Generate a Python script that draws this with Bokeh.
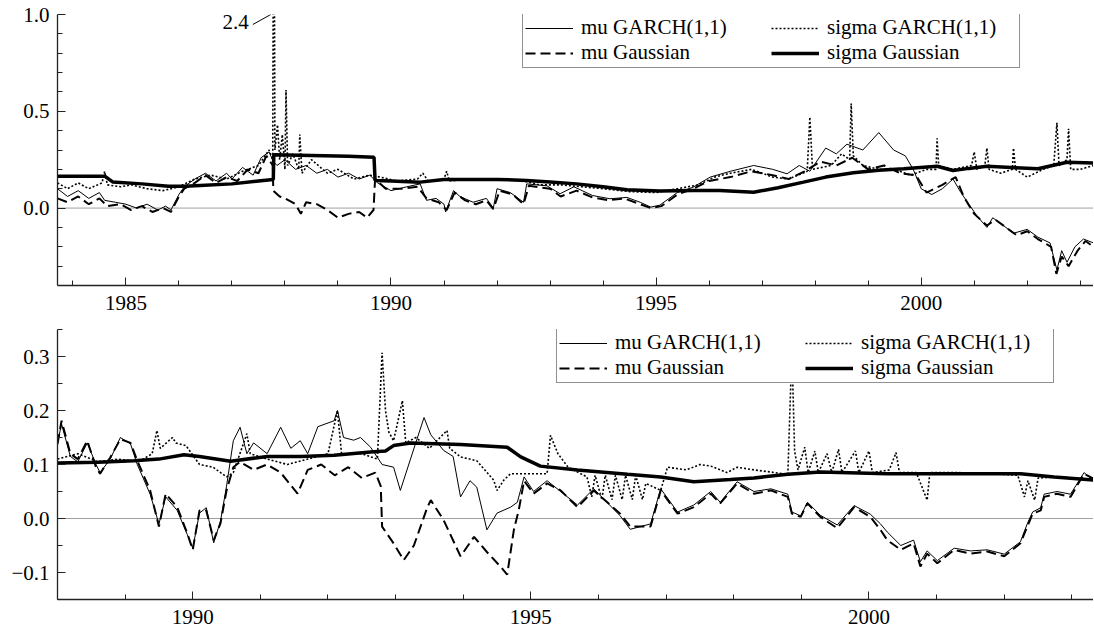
from bokeh.plotting import figure
from bokeh.layouts import column
from bokeh.models import (FixedTicker, CustomJSTickFormatter, Span, Legend,
                          LegendItem, Label)
from bokeh.embed import file_html
from bokeh.resources import INLINE

FONT = "Liberation Serif"
FS = "21px"

# ---------------- data: top panel (date, value) ----------------
top_mu_garch = [(1983.71,0.10),(1983.9,0.06),(1984.1,0.09),(1984.3,0.05),(1984.5,0.08),(1984.6,0.04),
    (1984.8,0.03),(1985.0,0.02),(1985.2,0.0),(1985.4,0.02),(1985.6,-0.01),(1985.75,0.01),(1985.85,-0.01),
    (1986.0,0.07),(1986.1,0.11),(1986.3,0.15),(1986.5,0.18),(1986.7,0.14),(1986.9,0.18),(1987.0,0.15),
    (1987.2,0.21),(1987.4,0.17),(1987.55,0.26),(1987.7,0.29),(1987.78,0.24),(1987.85,0.22),(1988.0,0.25),
    (1988.2,0.2),(1988.4,0.22),(1988.6,0.18),(1988.8,0.2),(1989.0,0.16),(1989.2,0.18),(1989.4,0.15),
    (1989.6,0.17),(1989.75,0.13),(1990.0,0.09),(1990.3,0.11),(1990.55,0.125),(1990.67,0.04),(1990.85,0.05),
    (1991.0,0.02),(1991.03,-0.02),(1991.18,0.09),(1991.3,0.06),(1991.55,0.03),(1991.8,0.05),(1991.93,0.0),
    (1992.0,0.1),(1992.25,0.08),(1992.5,0.03),(1992.56,0.125),(1992.94,0.115),(1993.19,0.074),(1993.45,0.11),
    (1993.8,0.065),(1994.13,0.048),(1994.45,0.055),(1994.7,0.03),(1994.9,0.005),(1995.07,0.015),(1995.4,0.08),
    (1995.7,0.108),(1996.02,0.16),(1996.4,0.19),(1996.84,0.22),(1997.2,0.2),(1997.47,0.177),(1997.7,0.22),
    (1997.9,0.19),(1998.2,0.31),(1998.4,0.28),(1998.6,0.33),(1998.9,0.3),(1999.2,0.39),(1999.48,0.30),
    (1999.7,0.27),(1999.85,0.2),(2000.0,0.1),(2000.2,0.07),(2000.4,0.1),(2000.6,0.15),(2000.75,0.08),
    (2000.9,0.02),(2001.05,-0.04),(2001.24,-0.1),(2001.35,-0.05),(2001.55,-0.09),(2001.74,-0.13),(2002.0,-0.11),
    (2002.2,-0.15),(2002.43,-0.18),(2002.56,-0.32),(2002.65,-0.22),(2002.75,-0.28),(2002.9,-0.2),
    (2003.06,-0.16),(2003.25,-0.18)]

top_sigma_garch = [(1983.71,0.13),(1983.9,0.1),(1984.1,0.13),(1984.3,0.1),(1984.55,0.13),(1984.6,0.19),
    (1984.65,0.12),(1984.9,0.11),(1985.1,0.12),(1985.4,0.1),(1985.7,0.09),(1986.0,0.11),(1986.3,0.15),
    (1986.6,0.17),(1986.9,0.15),(1987.2,0.19),(1987.5,0.22),(1987.7,0.3),(1987.77,0.25),(1987.79,2.4),
    (1987.81,0.3),(1987.86,0.43),(1987.9,0.25),(1987.95,0.38),(1988.0,0.2),(1988.02,0.61),(1988.05,0.22),
    (1988.15,0.28),(1988.26,0.2),(1988.28,0.38),(1988.32,0.18),(1988.5,0.25),(1988.8,0.18),(1989.0,0.2),
    (1989.3,0.15),(1989.6,0.17),(1989.8,0.16),(1990.1,0.14),(1990.5,0.15),(1990.6,0.18),(1990.7,0.14),
    (1991.0,0.15),(1991.05,0.19),(1991.1,0.14),(1991.5,0.15),(1992.0,0.15),(1992.5,0.14),(1992.8,0.12),
    (1993.2,0.12),(1993.6,0.11),(1994.0,0.1),(1994.5,0.085),(1995.0,0.08),(1995.4,0.1),(1995.8,0.12),
    (1996.1,0.16),(1996.4,0.18),(1996.8,0.2),(1997.2,0.16),(1997.5,0.15),(1997.85,0.19),(1997.9,0.47),
    (1997.95,0.2),(1998.3,0.22),(1998.5,0.28),(1998.65,0.25),(1998.68,0.54),(1998.72,0.27),(1998.9,0.22),
    (1999.2,0.2),(1999.5,0.2),(1999.8,0.17),(2000.1,0.2),(2000.28,0.2),(2000.3,0.36),(2000.33,0.22),
    (2000.6,0.2),(2000.95,0.22),(2001.0,0.29),(2001.05,0.2),(2001.2,0.22),(2001.24,0.31),(2001.28,0.2),
    (2001.5,0.18),(2001.72,0.2),(2001.74,0.31),(2001.78,0.2),(2002.0,0.16),(2002.3,0.2),(2002.5,0.22),
    (2002.56,0.44),(2002.6,0.22),(2002.75,0.25),(2002.78,0.41),(2002.82,0.2),(2003.0,0.2),(2003.25,0.22)]

top_mu_gauss = [(1983.71,0.05),(1983.9,0.03),(1984.1,0.06),(1984.3,0.02),(1984.5,0.05),(1984.65,0.01),
    (1984.9,0.02),(1985.1,-0.01),(1985.3,0.01),(1985.5,-0.02),(1985.7,0.0),(1985.85,-0.02),(1986.0,0.06),
    (1986.1,0.1),(1986.3,0.13),(1986.5,0.17),(1986.7,0.13),(1986.9,0.16),(1987.1,0.14),(1987.3,0.2),
    (1987.5,0.18),(1987.65,0.27),(1987.77,0.22),(1987.78,0.09),(1987.9,0.06),(1988.0,0.05),(1988.2,0.02),
    (1988.3,-0.03),(1988.4,0.03),(1988.6,0.02),(1988.8,-0.01),(1989.0,-0.05),(1989.2,-0.03),(1989.4,-0.02),
    (1989.55,-0.05),(1989.67,-0.01),(1989.70,0.15),(1989.9,0.1),(1990.2,0.1),(1990.5,0.11),(1990.67,0.05),
    (1990.9,0.03),(1991.05,-0.01),(1991.2,0.08),(1991.4,0.04),(1991.6,0.02),(1991.8,0.04),(1991.93,-0.005),
    (1992.05,0.09),(1992.3,0.07),(1992.5,0.02),(1992.6,0.115),(1993.0,0.1),(1993.2,0.06),(1993.5,0.09),
    (1993.8,0.055),(1994.1,0.04),(1994.4,0.05),(1994.7,0.02),(1994.9,0.0),(1995.1,0.01),(1995.4,0.07),
    (1995.7,0.1),(1996.0,0.14),(1996.4,0.16),(1996.8,0.19),(1997.2,0.17),(1997.5,0.15),(1997.8,0.19),
    (1998.1,0.24),(1998.4,0.22),(1998.7,0.26),(1999.0,0.2),(1999.3,0.22),(1999.6,0.18),(1999.9,0.17),
    (2000.1,0.08),(2000.4,0.12),(2000.65,0.16),(2000.8,0.06),(2001.0,-0.03),(2001.24,-0.09),(2001.4,-0.06),
    (2001.6,-0.1),(2001.8,-0.14),(2002.0,-0.12),(2002.2,-0.16),(2002.45,-0.2),(2002.55,-0.34),(2002.65,-0.25),
    (2002.78,-0.3),(2002.95,-0.22),(2003.1,-0.17),(2003.25,-0.2)]

top_sigma_gauss = [(1983.71,0.165),(1984.6,0.165),(1984.75,0.135),(1985.3,0.125),(1985.8,0.113),
    (1986.1,0.113),(1986.4,0.117),(1987.0,0.125),(1987.5,0.14),(1987.78,0.148),(1987.79,0.275),
    (1988.5,0.272),(1989.2,0.268),(1989.68,0.262),(1989.70,0.143),(1990.0,0.14),(1990.55,0.134),
    (1991.0,0.148),(1992.0,0.148),(1992.56,0.143),(1993.0,0.135),(1993.5,0.125),(1994.0,0.11),
    (1994.45,0.095),(1995.07,0.088),(1995.7,0.091),(1996.2,0.091),(1996.84,0.082),(1997.3,0.105),
    (1997.78,0.134),(1998.2,0.16),(1998.72,0.182),(1999.2,0.195),(1999.67,0.203),(2000.3,0.216),
    (2000.6,0.194),(2000.9,0.205),(2001.24,0.216),(2001.7,0.21),(2002.2,0.203),(2002.75,0.237),
    (2003.25,0.233)]

# ---------------- data: bottom panel (date, value) ----------------
bot_mu_garch = [(1988.0,0.14),(1988.06,0.175),(1988.19,0.115),(1988.3,0.105),(1988.44,0.14),(1988.57,0.1),
    (1988.63,0.085),(1988.78,0.11),(1988.93,0.15),(1989.08,0.138),(1989.18,0.1),(1989.37,0.045),
    (1989.5,-0.01),(1989.6,0.04),(1989.77,0.015),(1989.92,-0.03),(1990.0,-0.055),(1990.1,0.01),(1990.2,0.02),
    (1990.31,-0.045),(1990.41,-0.005),(1990.5,0.06),(1990.6,0.144),(1990.7,0.169),(1990.8,0.12),(1990.9,0.14),
    (1991.1,0.12),(1991.3,0.169),(1991.45,0.13),(1991.59,0.144),(1991.7,0.12),(1991.85,0.17),(1992.09,0.181),
    (1992.14,0.2),(1992.23,0.15),(1992.38,0.145),(1992.48,0.15),(1992.63,0.132),(1992.8,0.1),(1992.97,0.095),
    (1993.07,0.052),(1993.22,0.11),(1993.42,0.187),(1993.52,0.155),(1993.71,0.126),(1993.85,0.115),
    (1993.96,0.04),(1994.1,0.07),(1994.2,0.058),(1994.35,-0.021),(1994.5,0.01),(1994.7,0.021),(1994.8,0.03),
    (1994.9,0.077),(1995.04,0.05),(1995.24,0.07),(1995.44,0.05),(1995.69,0.025),(1995.93,0.055),
    (1996.32,0.005),(1996.47,-0.02),(1996.77,-0.01),(1996.92,0.055),(1997.17,0.012),(1997.41,0.025),
    (1997.66,0.05),(1997.8,0.03),(1998.05,0.068),(1998.3,0.05),(1998.55,0.055),(1998.8,0.045),(1998.86,0.012),
    (1998.99,0.005),(1999.09,0.03),(1999.28,0.006),(1999.53,-0.012),(1999.78,0.024),(2000.02,0.008),
    (2000.17,-0.01),(2000.27,-0.025),(2000.47,-0.05),(2000.66,-0.04),(2000.76,-0.08),(2000.86,-0.06),
    (2001.01,-0.078),(2001.26,-0.055),(2001.5,-0.06),(2001.75,-0.058),(2002.0,-0.066),(2002.24,-0.043),
    (2002.34,-0.01),(2002.42,0.012),(2002.54,0.02),(2002.59,0.045),(2002.78,0.05),(2002.98,0.045),
    (2003.18,0.085),(2003.32,0.07)]

bot_sigma_garch = [(1988.0,0.11),(1988.3,0.12),(1988.6,0.105),(1988.9,0.11),(1989.2,0.105),(1989.4,0.12),
    (1989.47,0.163),(1989.52,0.13),(1989.7,0.15),(1989.75,0.14),(1989.9,0.135),(1990.1,0.1),(1990.3,0.095),
    (1990.5,0.077),(1990.6,0.085),(1990.8,0.157),(1990.85,0.12),(1991.1,0.11),(1991.4,0.1),(1991.7,0.11),
    (1992.0,0.12),(1992.14,0.2),(1992.2,0.12),(1992.5,0.12),(1992.73,0.11),(1992.8,0.307),(1992.85,0.2),
    (1992.9,0.16),(1992.97,0.144),(1993.1,0.218),(1993.15,0.14),(1993.3,0.15),(1993.5,0.13),(1993.76,0.163),
    (1993.8,0.13),(1993.96,0.114),(1994.2,0.107),(1994.45,0.071),(1994.5,0.052),(1994.6,0.071),(1994.7,0.083),
    (1995.0,0.083),(1995.24,0.083),(1995.29,0.154),(1995.4,0.12),(1995.55,0.095),(1995.83,0.077),
    (1995.9,0.04),(1995.95,0.08),(1996.05,0.035),(1996.1,0.08),(1996.2,0.035),(1996.25,0.08),(1996.35,0.035),
    (1996.4,0.08),(1996.5,0.035),(1996.55,0.08),(1996.65,0.035),(1996.7,0.065),(1996.92,0.052),
    (1997.02,0.095),(1997.3,0.09),(1997.5,0.1),(1997.66,0.097),(1997.9,0.085),(1998.05,0.095),(1998.3,0.09),
    (1998.8,0.082),(1998.86,0.313),(1998.9,0.125),(1998.95,0.09),(1999.05,0.132),(1999.1,0.085),
    (1999.2,0.125),(1999.25,0.085),(1999.38,0.12),(1999.45,0.085),(1999.55,0.128),(1999.6,0.085),
    (1999.8,0.125),(1999.85,0.085),(2000.0,0.125),(2000.05,0.085),(2000.3,0.09),(2000.4,0.122),
    (2000.45,0.085),(2000.7,0.085),(2000.86,0.034),(2000.9,0.085),(2001.3,0.085),(2001.8,0.083),
    (2002.2,0.08),(2002.3,0.04),(2002.35,0.07),(2002.45,0.034),(2002.5,0.075),(2002.8,0.077),(2003.32,0.072)]

bot_mu_gauss = [(1988.0,0.138),(1988.06,0.181),(1988.19,0.12),(1988.3,0.11),(1988.44,0.144),(1988.57,0.095),
    (1988.63,0.083),(1988.78,0.113),(1988.93,0.147),(1989.08,0.14),(1989.18,0.107),(1989.37,0.052),
    (1989.5,-0.015),(1989.6,0.046),(1989.77,0.021),(1989.92,-0.028),(1990.0,-0.058),(1990.1,0.015),
    (1990.2,0.015),(1990.31,-0.04),(1990.41,-0.009),(1990.5,0.052),(1990.6,0.095),(1990.7,0.105),
    (1990.9,0.09),(1991.1,0.1),(1991.3,0.085),(1991.55,0.046),(1991.7,0.09),(1991.9,0.1),(1992.1,0.08),
    (1992.3,0.095),(1992.5,0.075),(1992.7,0.085),(1992.78,0.06),(1992.8,-0.015),(1992.97,-0.046),
    (1993.12,-0.077),(1993.27,-0.05),(1993.47,0.021),(1993.52,0.034),(1993.71,-0.003),(1993.96,-0.07),
    (1994.16,-0.034),(1994.35,-0.062),(1994.55,-0.089),(1994.65,-0.104),(1994.75,-0.02),(1994.82,0.015),
    (1994.9,0.07),(1995.04,0.046),(1995.24,0.065),(1995.44,0.052),(1995.69,0.021),(1995.93,0.052),
    (1996.32,0.009),(1996.47,-0.015),(1996.77,-0.015),(1996.92,0.052),(1997.17,0.009),(1997.41,0.021),
    (1997.66,0.046),(1997.8,0.028),(1998.05,0.065),(1998.3,0.046),(1998.55,0.052),(1998.8,0.04),
    (1998.86,0.009),(1998.99,0.003),(1999.09,0.028),(1999.28,0.003),(1999.53,-0.018),(1999.78,0.021),
    (2000.02,0.003),(2000.17,-0.021),(2000.27,-0.04),(2000.47,-0.058),(2000.66,-0.046),(2000.76,-0.089),
    (2000.86,-0.065),(2001.01,-0.083),(2001.26,-0.058),(2001.5,-0.065),(2001.75,-0.061),(2002.0,-0.07),
    (2002.24,-0.046),(2002.34,-0.015),(2002.42,0.009),(2002.54,0.015),(2002.59,0.04),(2002.78,0.046),
    (2002.98,0.04),(2003.18,0.083),(2003.32,0.074)]

bot_sigma_gauss = [(1988.0,0.103),(1988.6,0.104),(1989.13,0.107),(1989.5,0.11),(1989.87,0.118),
    (1990.1,0.115),(1990.56,0.106),(1991.1,0.115),(1991.6,0.115),(1992.09,0.117),(1992.63,0.123),
    (1992.85,0.125),(1992.97,0.135),(1993.22,0.14),(1993.96,0.137),(1994.65,0.132),(1994.85,0.114),
    (1995.14,0.097),(1995.69,0.09),(1996.43,0.082),(1996.92,0.077),(1997.41,0.068),(1997.95,0.072),
    (1998.3,0.075),(1998.8,0.082),(1999.28,0.086),(2000.27,0.083),(2001.0,0.083),(2002.24,0.083),
    (2002.74,0.077),(2003.32,0.071)]

legend_labels = ["mu GARCH(1,1)", "sigma GARCH(1,1)", "mu Gaussian", "sigma Gaussian"]
spike_label = "2.4"

top_xticks = [1985, 1990, 1995, 2000]
top_xminor = list(range(1984, 2004))
top_yticks = [0.0, 0.5, 1.0]
top_yminor = [-0.3, -0.2, -0.1, 0.1, 0.2, 0.3, 0.4, 0.6, 0.7, 0.8, 0.9]
bot_xticks = [1990, 1995, 2000]
bot_xminor = list(range(1988, 2004))
bot_yticks = [-0.1, 0.0, 0.1, 0.2, 0.3]
bot_yminor = [-0.15, -0.05, 0.05, 0.15, 0.25, 0.35]


def style(p, xt, xm, yt, ym, x_standoff):
    p.outline_line_color = None
    p.xgrid.visible = False
    p.ygrid.visible = False
    p.background_fill_color = "white"
    p.border_fill_color = "white"
    for ax in (p.xaxis[0], p.yaxis[0]):
        ax.axis_line_color = "#222222"
        ax.axis_line_width = 1.3
        ax.major_tick_in = 8
        ax.major_tick_out = 0
        ax.minor_tick_in = 5
        ax.minor_tick_out = 0
        ax.major_tick_line_color = "#222222"
        ax.minor_tick_line_color = "#222222"
        ax.major_label_text_font = FONT
        ax.major_label_text_font_size = FS
        ax.major_label_text_color = "black"
    p.xaxis.ticker = FixedTicker(ticks=xt, minor_ticks=xm)
    p.yaxis.ticker = FixedTicker(ticks=yt, minor_ticks=ym)
    p.xaxis.formatter = CustomJSTickFormatter(code="return tick.toFixed(0);")
    p.yaxis.formatter = CustomJSTickFormatter(
        code="return (tick < -1e-9 ? '\u2212' : '') + Math.abs(tick).toFixed(1);")
    p.xaxis.major_label_standoff = x_standoff
    p.yaxis.major_label_standoff = 8
    p.add_layout(Span(location=0, dimension="width", line_color="#a0a0a0",
                      line_width=1, level="underlay"))


def draw(p, mu_g, sg_g, mu_n, sg_n, legend_xy):
    def xy(d):
        return [a for a, b in d], [b for a, b in d]
    r1 = p.line(*xy(mu_g), line_color="black", line_width=1)
    r2 = p.line(*xy(sg_g), line_color="black", line_width=1.6, line_dash="2 2")
    r3 = p.line(*xy(mu_n), line_color="black", line_width=2, line_dash="10 5")
    r4 = p.line(*xy(sg_n), line_color="black", line_width=3.5)
    items = [LegendItem(label=legend_labels[i], renderers=[r])
             for i, r in enumerate([r1, r2, r3, r4])]
    leg = Legend(items=items, location=legend_xy, orientation="horizontal", nrows=2,
                 border_line_color="#222222", border_line_width=1.2,
                 background_fill_color="white", background_fill_alpha=1.0,
                 label_text_font=FONT, label_text_font_size=FS,
                 label_text_color="black", glyph_width=48, glyph_height=14,
                 label_height=14, label_width=190, label_standoff=8, spacing=0,
                 padding=2, margin=0)
    p.add_layout(leg, "center")


W = 1093
p1 = figure(width=W, height=318, x_range=(1983.71, 2003.25), y_range=(-0.4, 1.0),
            output_backend="svg", toolbar_location=None,
            min_border_left=57, min_border_right=0, min_border_top=14, min_border_bottom=33)
style(p1, top_xticks, top_xminor, top_yticks, top_yminor, 10)
draw(p1, top_mu_garch, top_sigma_garch, top_mu_gauss, top_sigma_gauss, (465, 217))

spike_t = [a for a, b in top_sigma_garch if b > 1.0][0]
px_x = (2003.25 - 1983.71) / (W - 57)
px_y = 1.4 / 271
p1.add_layout(Label(x=spike_t - 25 * px_x, y=1.0 - 7 * px_y, text=spike_label,
                    text_align="right", text_baseline="middle", text_font=FONT,
                    text_font_size=FS, text_color="black"))
p1.segment(x0=[spike_t - 21 * px_x], y0=[1.0 - 10 * px_y], x1=[spike_t - 3 * px_x], y1=[1.0],
           line_color="black", line_width=1)

p2 = figure(width=W, height=311, x_range=(1988.0, 2003.32), y_range=(-0.15, 0.35),
            output_backend="svg", toolbar_location=None,
            min_border_left=57, min_border_right=0, min_border_top=11, min_border_bottom=30)
style(p2, bot_xticks, bot_xminor, bot_yticks, bot_yminor, 10)
draw(p2, bot_mu_garch, bot_sigma_garch, bot_mu_gauss, bot_sigma_gauss, (499, 216))

layout = column(p1, p2, spacing=0)
open("out.html", "w").write(file_html(layout, INLINE))
